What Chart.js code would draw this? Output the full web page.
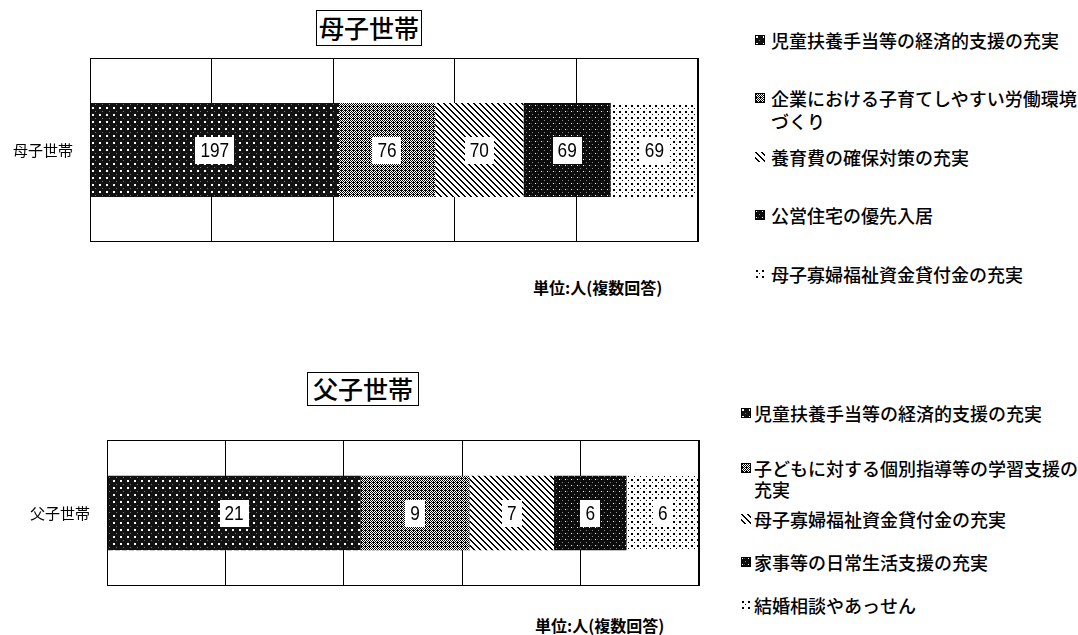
<!DOCTYPE html>
<html><head><meta charset="utf-8">
<script src="https://cdn.jsdelivr.net/npm/chart.js@4"></script>
<style>
body{margin:0;background:#fff;width:1078px;height:635px;position:relative;overflow:hidden;font-family:'Noto Sans CJK JP','Noto Sans',sans-serif;color:#000}
.abs{position:absolute}
.title{border:1.5px solid #000;text-align:center;font-size:25px;font-weight:500;box-sizing:border-box;white-space:nowrap}
.unit{font-size:16px;font-weight:bold;white-space:nowrap;line-height:20px}
.leg{font-size:18px;font-weight:500}
</style></head><body>
<div id="root"></div>
<script>
// ---- data ----
const motherTitle = '母子世帯';
const motherCategory = ['母子世帯'];
const motherSeries = ['児童扶養手当等の経済的支援の充実','企業における子育てしやすい労働環境づくり','養育費の確保対策の充実','公営住宅の優先入居','母子寡婦福祉資金貸付金の充実'];
const motherValues = [197, 76, 70, 69, 69];

const fatherTitle = '父子世帯';
const fatherCategory = ['父子世帯'];
const fatherSeries = ['児童扶養手当等の経済的支援の充実','子どもに対する個別指導等の学習支援の充実','母子寡婦福祉資金貸付金の充実','家事等の日常生活支援の充実','結婚相談やあっせん'];
const fatherValues = [21, 9, 7, 6, 6];

const unitLabel = '単位:人(複数回答)';

// ---- patterns ----
function makeTile(w, h, bg, pixels){
  const c = document.createElement('canvas'); c.width = w; c.height = h;
  const x = c.getContext('2d');
  x.fillStyle = bg; x.fillRect(0,0,w,h);
  pixels(x, w, h);
  return c;
}
const tiles = [
  makeTile(7,7,'#121212',(x)=>{ x.fillStyle='#fff'; x.fillRect(1,1,2,2); x.fillStyle='#777'; x.fillRect(4,5,1,1); }),
  makeTile(4,4,'#fff',(x,w,h)=>{ x.fillStyle='#000'; for(let i=0;i<w;i++)for(let j=0;j<h;j++){ if((i+j)%2===0) x.fillRect(i,j,1,1);} x.fillRect(1,0,1,1); }),
  makeTile(6,6,'#fff',(x,w,h)=>{ x.fillStyle='#000'; for(let i=0;i<w;i++)for(let j=0;j<h;j++){ if((((i-j)%6)+6)%6<2) x.fillRect(i,j,1,1);} }),
  makeTile(6,6,'#0c0c0c',(x)=>{ x.fillStyle='#fff'; x.fillRect(1,1,1,1); x.fillStyle='#888'; x.fillRect(4,4,1,1); x.fillStyle='#444'; x.fillRect(3,1,1,1); }),
  makeTile(6,6,'#fff',(x)=>{ x.fillStyle='#000'; x.fillRect(1,1,2,2); x.fillRect(4,4,1,1); })
];
const helperCtx = document.createElement('canvas').getContext('2d');
const patterns = tiles.map(t => helperCtx.createPattern(t,'repeat'));

// ---- plugin: frame + value labels ----
const framePlugin = {
  id:'frame',
  afterDatasetsDraw(chart){
    const {ctx, chartArea:a} = chart;
    ctx.save();
    ctx.strokeStyle = '#000'; ctx.lineWidth = 1;
    ctx.strokeRect(Math.round(a.left)+0.5, Math.round(a.top)+0.5, Math.round(a.right-a.left)-1, Math.round(a.bottom-a.top)-1);
    chart.data.datasets.forEach((ds,i)=>{
      const el = chart.getDatasetMeta(i).data[0];
      const cx = (el.x + el.base)/2, cy = el.y;
      const t = String(ds.data[0]);
      ctx.font = "21px 'Liberation Sans',sans-serif";
      const sx = 0.82;
      const w = ctx.measureText(t).width*sx + 10;
      ctx.fillStyle = '#fff';
      ctx.fillRect(Math.round(cx - w/2), Math.round(cy - 13), Math.round(w), 27);
      ctx.save();
      ctx.translate(cx, cy + 1); ctx.scale(sx, 1);
      ctx.fillStyle = '#000'; ctx.textAlign = 'center'; ctx.textBaseline = 'middle';
      ctx.fillText(t, 0, 0);
      ctx.restore();
    });
    ctx.restore();
  }
};

function buildChart(opts){
  const root = document.getElementById('root');
  const cv = document.createElement('canvas');
  cv.width = opts.w; cv.height = opts.h;
  cv.className = 'abs'; cv.style.left = opts.x+'px'; cv.style.top = opts.y+'px';
  root.appendChild(cv);
  const total = opts.values.reduce((s,v)=>s+v,0);
  new Chart(cv, {
    type:'bar',
    data:{
      labels: opts.category,
      datasets: opts.series.map((name,i)=>({
        label:name, data:[opts.values[i]], backgroundColor:patterns[i], borderWidth:0,
        barPercentage:0.51, categoryPercentage:1
      }))
    },
    options:{
      indexAxis:'y', responsive:false, animation:false, devicePixelRatio:1,
      layout:{padding:opts.pad},
      plugins:{legend:{display:false}, tooltip:{enabled:false}, title:{display:false}},
      scales:{
        x:{type:'linear', stacked:true, min:0, max:total,
           grid:{color:'#000', lineWidth:1, drawTicks:false}, border:{display:false},
           ticks:{display:false},
           afterBuildTicks(s){ s.ticks = [0,1,2,3,4,5].map(k=>({value: total*k/5})); },
           afterFit(s){ s.height = 0; s.paddingLeft = 0; s.paddingRight = 0; s.paddingTop = 0; s.paddingBottom = 0; }},
        y:{type:'category', stacked:true,
           grid:{display:false, drawTicks:false}, border:{display:false},
           ticks:{color:'#000', padding:17, font:{size:15, family:"'Noto Sans CJK JP'"}},
           afterFit(s){ s.width = opts.axisW; s.paddingTop = 0; s.paddingBottom = 0; s.paddingLeft = 0; s.paddingRight = 0; }}
      }
    },
    plugins:[framePlugin]
  });
}

function addDiv(cls, text, x, y, w, h, extra){
  const d = document.createElement('div');
  d.className = 'abs ' + cls; d.textContent = text;
  d.style.left = x+'px'; d.style.top = y+'px';
  if (w) d.style.width = w+'px';
  if (h) { d.style.height = h+'px'; d.style.lineHeight = (h-3)+'px'; }
  if (extra) Object.assign(d.style, extra);
  document.getElementById('root').appendChild(d);
  return d;
}

function addLegend(series, iconX, textX, centers, lineH, width){
  series.forEach((name,i)=>{
    const c = document.createElement('canvas'); c.width = 10; c.height = 10;
    c.className='abs'; c.style.left = iconX+'px'; c.style.top = (centers[i]-5)+'px';
    const x = c.getContext('2d'); x.fillStyle = patterns[i]; x.fillRect(0,0,10,10);
    if (i!==2 && i!==4){ x.strokeStyle='#000'; x.strokeRect(0.5,0.5,9,9); }
    document.getElementById('root').appendChild(c);
    addDiv('leg', name, textX, centers[i]-lineH/2, width, 0, {lineHeight: lineH+'px'});
  });
}

// titles
addDiv('title', motherTitle, 316, 10, 106, 36);
addDiv('title', fatherTitle, 307, 372, 112, 34);

// charts
buildChart({x:0, y:50, w:720, h:200, pad:{top:8,right:22,bottom:8,left:0}, axisW:90,
  category:motherCategory, series:motherSeries, values:motherValues});
buildChart({x:0, y:430, w:720, h:170, pad:{top:10,right:21,bottom:14,left:0}, axisW:107,
  category:fatherCategory, series:fatherSeries, values:fatherValues});

// unit labels
addDiv('unit', unitLabel, 533, 277);
addDiv('unit', unitLabel, 535, 615);

// legends
addLegend(motherSeries, 755, 771, [40, 98, 157, 215, 274], 23, 312);
addLegend(fatherSeries, 741, 754, [413, 468, 519, 562, 605], 21, 326);
</script>
</body></html>
